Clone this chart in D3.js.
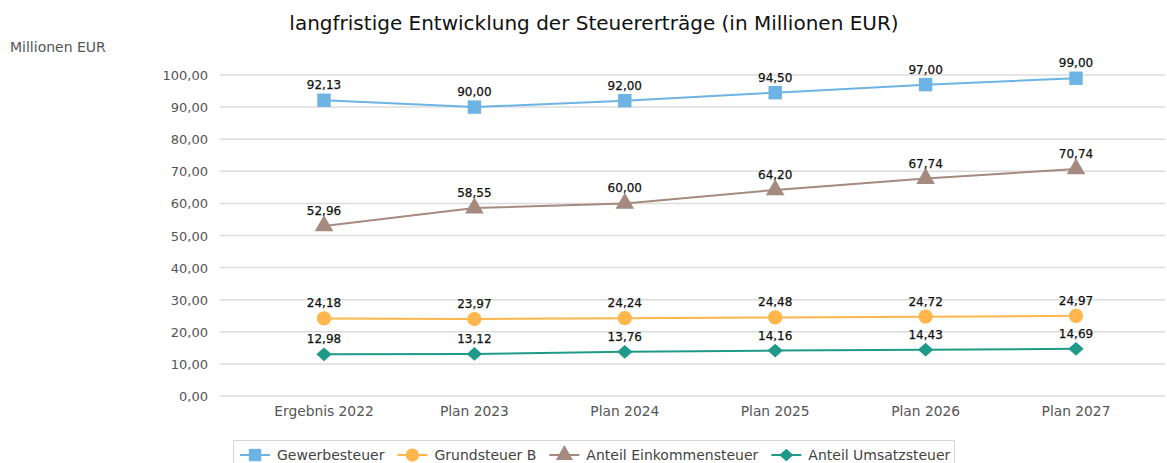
<!DOCTYPE html>
<html>
<head>
<meta charset="utf-8">
<script src="https://cdn.jsdelivr.net/npm/d3@7"></script>
<style>
  body { margin: 0; background: #fff; }
  svg { font-family: "DejaVu Sans", sans-serif; }
</style>
</head>
<body>
<div id="chart"></div>
<script>
// chart data
var categories = ["Ergebnis 2022", "Plan 2023", "Plan 2024", "Plan 2025", "Plan 2026", "Plan 2027"];
var gewerbesteuer = [92.13, 90.00, 92.00, 94.50, 97.00, 99.00];
var grundsteuerB = [24.18, 23.97, 24.24, 24.48, 24.72, 24.97];
var einkommensteuer = [52.96, 58.55, 60.00, 64.20, 67.74, 70.74];
var umsatzsteuer = [12.98, 13.12, 13.76, 14.16, 14.43, 14.69];
var yTicks = [0, 10, 20, 30, 40, 50, 60, 70, 80, 90, 100];

var series = [
    {name: "Gewerbesteuer", values: gewerbesteuer, color: "#6db3e3", sym: d3.symbolSquare, size: 180, sx: 1},
    {name: "Grundsteuer B", values: grundsteuerB, color: "#ffb74d", sym: d3.symbolCircle, size: 160, sx: 1},
    {name: "Anteil Einkommensteuer", values: einkommensteuer, color: "#a58a80", sym: d3.symbolTriangle, size: 150, sx: 1},
    {name: "Anteil Umsatzsteuer", values: umsatzsteuer, color: "#1f9a89", sym: d3.symbolDiamond2, size: 120, sx: 1.12}
];

var W = 1167, H = 463;
var fmt = function (v) { return d3.format(".2f")(v).replace(".", ","); };

var svg = d3.select("#chart").append("svg")
    .attr("width", W).attr("height", H);

var x = d3.scalePoint().domain(categories).range([324, 1076]);
var y = d3.scaleLinear().domain([0, 100]).range([396, 75]);

// title + unit label
svg.append("text")
    .attr("x", 594).attr("y", 30)
    .attr("text-anchor", "middle")
    .style("font-size", "20px").style("fill", "#111")
    .text("langfristige Entwicklung der Steuererträge (in Millionen EUR)");
svg.append("text")
    .attr("x", 10).attr("y", 52)
    .style("font-size", "14px").style("fill", "#555")
    .text("Millionen EUR");

// gridlines
svg.append("g").selectAll("line").data(yTicks).join("line")
    .attr("x1", 220).attr("x2", 1165)
    .attr("y1", function (d) { return y(d); })
    .attr("y2", function (d) { return y(d); })
    .style("stroke", "#dcdcdc").style("stroke-width", 1.5);

// y axis labels
svg.append("g").selectAll("text").data(yTicks).join("text")
    .attr("x", 208)
    .attr("y", function (d) { return y(d) + 5; })
    .attr("text-anchor", "end")
    .style("font-size", "13px").style("fill", "#555")
    .text(fmt);

// x axis labels
svg.append("g").selectAll("text").data(categories).join("text")
    .attr("x", function (d) { return x(d); })
    .attr("y", 416)
    .attr("text-anchor", "middle")
    .style("font-size", "13.8px").style("fill", "#555")
    .text(function (d) { return d; });

var line = d3.line()
    .x(function (d, i) { return x(categories[i]); })
    .y(function (d) { return y(d); });

series.forEach(function (s) {
    var g = svg.append("g");
    g.append("path").datum(s.values)
        .attr("d", line)
        .style("fill", "none").style("stroke", s.color).style("stroke-width", 2);
    g.selectAll("path.mk").data(s.values).join("path")
        .attr("class", "mk")
        .attr("d", d3.symbol().type(s.sym).size(s.size))
        .attr("transform", function (d, i) {
            return "translate(" + x(categories[i]) + "," + y(d) + ") scale(" + s.sx + ",1)"; })
        .style("fill", s.color);
    g.selectAll("text").data(s.values).join("text")
        .attr("x", function (d, i) { return x(categories[i]); })
        .attr("y", function (d) { return y(d) - 11; })
        .attr("text-anchor", "middle")
        .style("font-size", "12px").style("fill", "#111")
        .style("stroke", "#111").style("stroke-width", 0.25)
        .text(fmt);
});

// legend
var lg = svg.append("g");
lg.append("rect")
    .attr("x", 233.5).attr("y", 440.5).attr("width", 721).attr("height", 30)
    .style("fill", "#fff").style("stroke", "#d6d6d6");
var lx = 240;
series.forEach(function (s) {
    var item = lg.append("g").attr("transform", "translate(" + lx + ",455)");
    item.append("line").attr("x1", 0).attr("x2", 30)
        .style("stroke", s.color).style("stroke-width", 2);
    item.append("path")
        .attr("d", d3.symbol().type(s.sym).size(s.size * 0.85))
        .attr("transform", "translate(15,0) scale(" + s.sx + ",1)")
        .style("fill", s.color);
    var t = item.append("text").attr("x", 37).attr("y", 5)
        .style("font-size", "14px").style("fill", "#444")
        .text(s.name);
    lx += 37 + t.node().getComputedTextLength() + 13;
});
</script>
</body>
</html>
